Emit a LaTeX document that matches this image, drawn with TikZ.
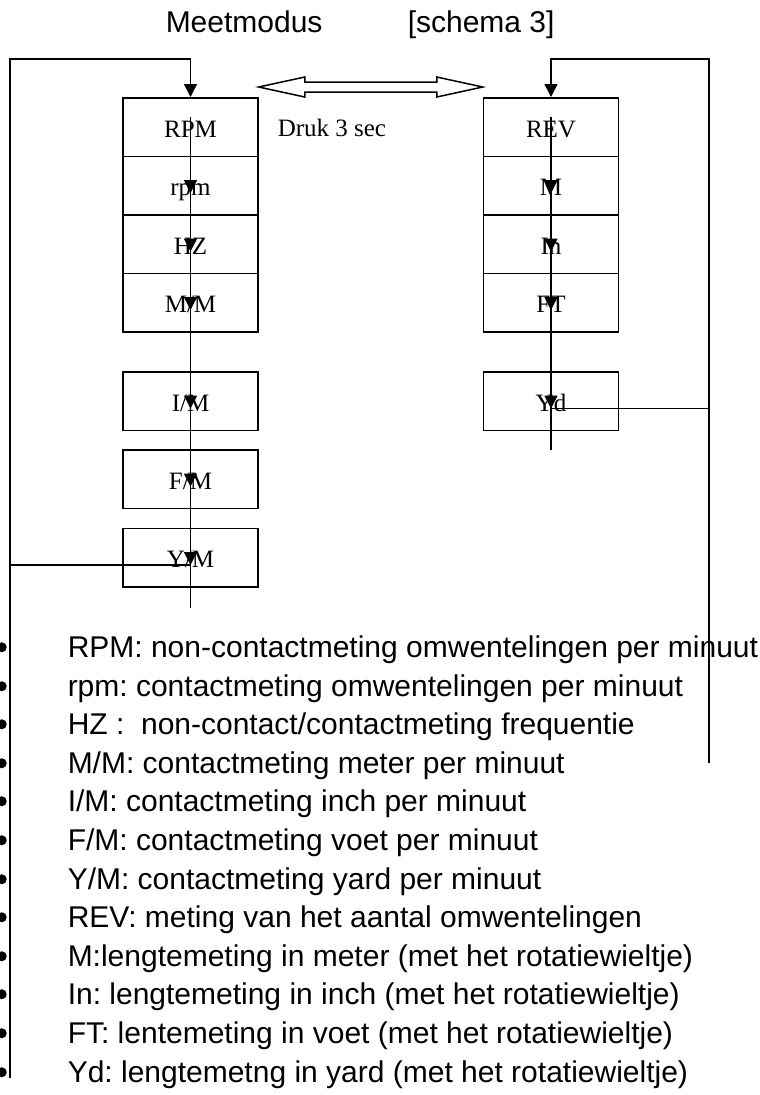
\documentclass[tikz,border=0pt]{standalone}
\usepackage{fontspec}
\setmainfont{Liberation Serif}
\setsansfont{Liberation Sans}
\usetikzlibrary{arrows.meta}
\frenchspacing

\begin{document}
\begin{tikzpicture}[x=0.4pt, y=-0.4pt, line width=0.6pt,
    mode/.style ={draw, rectangle, inner sep=0pt, minimum width=54pt, minimum height=23.4pt,
                  text height=10pt, text depth=2pt, font=\fontsize{10}{12}\selectfont},
    flow/.style ={-{Triangle[width=5.2pt,length=5.2pt]}},
    dot/.style ={circle, fill, inner sep=0pt, minimum size=4pt},
    plain/.style ={anchor=base west, inner sep=0pt},
    item/.style ={plain, text height=10.2pt, text depth=2.4pt,
                  font=\sffamily\fontsize{12}{14}\selectfont,
                  label={[dot, label distance=23.8pt]180:{}}}]
   \useasboundingbox (0,0) rectangle (760,1095);

   \node[plain, font=\sffamily\fontsize{12}{14}\selectfont] (title) at (165,32) {Meetmodus};
   \node[plain, font=\sffamily\fontsize{12}{14}\selectfont] (schema) at (407,32) {[schema 3]};

   % omwentelingen / snelheid
   \node[mode] (RPM) at (190.5,127)   {RPM};
   \node[mode] (rpm) at (190.5,185.5) {rpm};
   \node[mode] (HZ)  at (190.5,244)   {HZ};
   \node[mode] (MM)  at (190.5,302.5) {M/M};
   \node[mode] (IM)  at (190.5,401)   {I/M};
   \node[mode] (FM)  at (190.5,479)   {F/M};
   \node[mode] (YM)  at (190.5,557.5) {Y/M};

   % lengte
   \node[mode] (REV) at (551,127)   {REV};
   \node[mode] (M)   at (551,185.5) {M};
   \node[mode] (In)  at (551,244)   {In};
   \node[mode] (FT)  at (551,302.5) {FT};
   \node[mode] (Yd)  at (551,401)   {Yd};

   \node[plain, font=\fontsize{10}{12}\selectfont] (druk) at (277,136) {Druk 3 sec};

   \coordinate (ltop) at (10,59);
   \coordinate (lbot) at (10,1078);
   \coordinate (rtop) at (709,59);
   \coordinate (rbot) at (709,763);

   % wissel tussen de twee rijen
   \coordinate (swL) at ([yshift=4pt]RPM.north east);
   \coordinate (swR) at ([yshift=4pt]REV.north west);
   \draw (swL) -- ++(46,-10) -- ++(0,5) -- ([shift={(-46,-5)}]swR) -- ++(0,-5) -- (swR)
         -- ++(-46,10) -- ++(0,-5) -- ([shift={(46,5)}]swL) -- ++(0,5) -- cycle;

   \draw[flow] ([yshift=4pt]RPM.center) to ([yshift=-3pt]rpm.center);
   \draw[flow] ([yshift=4pt]rpm.center) to ([yshift=-3pt]HZ.center);
   \draw[flow] ([yshift=4pt]HZ.center)  to ([yshift=-3pt]MM.center);
   \draw[flow] ([yshift=4pt]MM.center)  to ([yshift=-3pt]IM.center);
   \draw[flow] ([yshift=4pt]IM.center)  to ([yshift=-3pt]FM.center);
   \draw[flow] ([yshift=4pt]FM.center)  to ([yshift=-3pt]YM.center);
   \draw (YM.center) -- ++(0,50);
   \draw[flow] ([yshift=-3pt]YM.center) -| (ltop) -| (RPM.north);
   \draw (ltop) -- (lbot);

   \draw[flow] ([yshift=4pt]REV.center) to ([yshift=-3pt]M.center);
   \draw[flow] ([yshift=4pt]M.center)   to ([yshift=-3pt]In.center);
   \draw[flow] ([yshift=4pt]In.center)  to ([yshift=-3pt]FT.center);
   \draw[flow] ([yshift=4pt]FT.center)  to ([yshift=-3pt]Yd.center);
   \draw (Yd.center) -- ++(0,49);
   \draw[flow] ([yshift=-3pt]Yd.center) -| (rtop) -| (REV.north);
   \draw (rtop) -- (rbot);

   % verklaring
   \node[item] (tRPM) at (67,657)  {RPM: non-contactmeting omwentelingen per minuut};
   \node[item] (trpm) at (67,696)  {rpm: contactmeting omwentelingen per minuut};
   \node[item] (tHZ)  at (67,734)  {HZ :\ \ non-contact/contactmeting frequentie};
   \node[item] (tMM)  at (67,773)  {M/M: contactmeting meter per minuut};
   \node[item] (tIM)  at (67,811)  {I/M: contactmeting inch per minuut};
   \node[item] (tFM)  at (67,850)  {F/M: contactmeting voet per minuut};
   \node[item] (tYM)  at (67,889)  {Y/M: contactmeting yard per minuut};
   \node[item] (tREV) at (67,927)  {REV: meting van het aantal omwentelingen};
   \node[item] (tM)   at (67,966)  {M:lengtemeting in meter (met het rotatiewieltje)};
   \node[item] (tIn)  at (67,1004) {In: lengtemeting in inch (met het rotatiewieltje)};
   \node[item] (tFT)  at (67,1043) {FT: lentemeting in voet (met het rotatiewieltje)};
   \node[item] (tYd)  at (67,1082) {Yd: lengtemetng in yard (met het rotatiewieltje)};
 \end{tikzpicture}
\end{document}
